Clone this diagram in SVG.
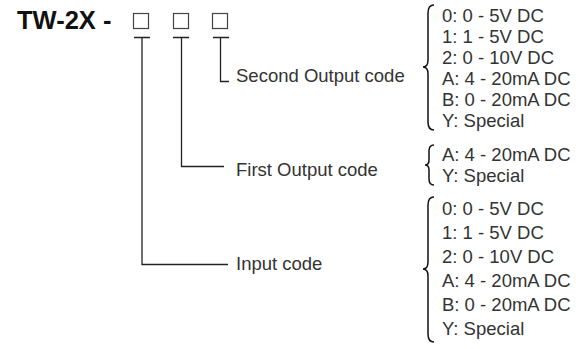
<svg xmlns="http://www.w3.org/2000/svg" width="582" height="349" viewBox="0 0 582 349">
<style>
.t{font-family:"Liberation Sans",Arial,sans-serif;font-size:18.5px;fill:#333}
.title{font-family:"Liberation Sans",Arial,sans-serif;font-size:25.5px;font-weight:bold;fill:#111}
.ln{fill:none;stroke:#222;stroke-width:1.3}
.bx{fill:#fff;stroke:#444;stroke-width:1.2}
.br{fill:none;stroke:#111;stroke-width:1.5}
</style>
<rect width="582" height="349" fill="#fff"/>
<g id="title"><text class="title" x="17" y="29">TW-2X -</text></g>
<g id="boxes">
<rect class="bx" x="133.5" y="13.5" width="15" height="15"/>
<rect class="bx" x="173.5" y="13.5" width="15" height="15"/>
<rect class="bx" x="212.5" y="13.5" width="15" height="15"/>
</g>
<g id="connectors">
<path class="ln" d="M134 37.5H150M142 37.5V264.5H228"/>
<path class="ln" d="M173 37.5H189M181.5 37.5V166.5H224"/>
<path class="ln" d="M213 37.5H229M220.5 37.5V81.5H229"/>
</g>
<g id="second-output">
<text class="t" x="236" y="82">Second Output code</text>
<path class="br" d="M434 5Q428 5 428 13V60Q428 67 423 67Q428 67 428 74V122Q428 130 434 130"/>
<text class="t" x="442" y="22">0: 0 - 5V DC</text>
<text class="t" x="442" y="43">1: 1 - 5V DC</text>
<text class="t" x="442" y="64">2: 0 - 10V DC</text>
<text class="t" x="442" y="85">A: 4 - 20mA DC</text>
<text class="t" x="442" y="106">B: 0 - 20mA DC</text>
<text class="t" x="442" y="127">Y: Special</text>
</g>
<g id="first-output">
<text class="t" x="236" y="176">First Output code</text>
<path class="br" d="M434 145Q429 145 429 151V160Q429 165 425 165Q429 165 429 170V179Q429 185 434 185"/>
<text class="t" x="442" y="161">A: 4 - 20mA DC</text>
<text class="t" x="442" y="182">Y: Special</text>
</g>
<g id="input">
<text class="t" x="236" y="270">Input code</text>
<path class="br" d="M434 197Q428 197 428 205V262Q428 269 423 269Q428 269 428 276V334Q428 342 434 342"/>
<text class="t" x="442" y="215">0: 0 - 5V DC</text>
<text class="t" x="442" y="239">1: 1 - 5V DC</text>
<text class="t" x="442" y="263">2: 0 - 10V DC</text>
<text class="t" x="442" y="287">A: 4 - 20mA DC</text>
<text class="t" x="442" y="311">B: 0 - 20mA DC</text>
<text class="t" x="442" y="335">Y: Special</text>
</g>
</svg>
